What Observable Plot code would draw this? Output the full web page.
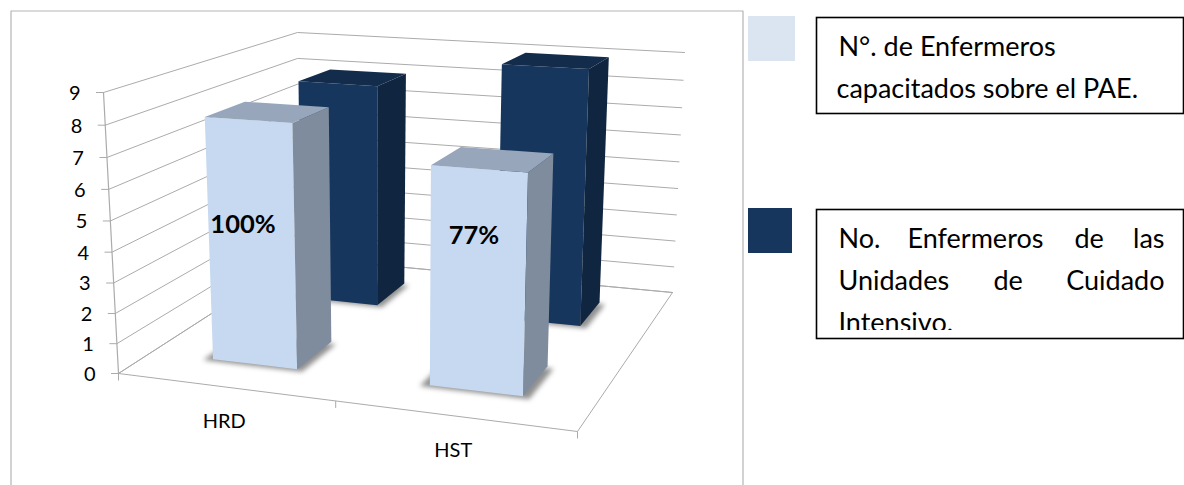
<!DOCTYPE html>
<html><head><meta charset="utf-8">
<script src="https://cdn.jsdelivr.net/npm/d3@7"></script>
<script src="https://cdn.jsdelivr.net/npm/@observablehq/plot@0.6"></script>
<style>
html,body{margin:0;padding:0;background:#fff}
svg{display:block}
g[fill="#444"]{filter:blur(2.4px)}
</style></head><body><div id="chart"></div>
<script>
// ---- data ----
const categories = ["HRD", "HST"];
const seriesNames = ["N°. de Enfermeros capacitados sobre el PAE.", "No. Enfermeros de las Unidades de Cuidado Intensivo."];
const trained = [8, 7];
const total = [8, 9];
const percentLabels = ["100%", "77%"];
const valueTicks = [0,1,2,3,4,5,6,7,8,9];

// ---- 3D view (perspective of the chart box) ----
const floorQuad = [[118,373],[577,431],[672,292],[298,257]];
const topQuad   = [[103,92],[587,123],[684,52],[297,32]];
const maxV = 9, rTilt = -0.05;
const [fl,fr,br,bl]=floorQuad;
const dx1=fr[0]-br[0],dx2=bl[0]-br[0],sx=fl[0]-fr[0]+br[0]-bl[0];
const dy1=fr[1]-br[1],dy2=bl[1]-br[1],sy=fl[1]-fr[1]+br[1]-bl[1];
const det=dx1*dy2-dx2*dy1, hg=(sx*dy2-dx2*sy)/det, hh=(dx1*sy-sx*dy1)/det;
const ha=fr[0]-fl[0]+hg*fr[0],hb=bl[0]-fl[0]+hh*bl[0],hd=fr[1]-fl[1]+hg*fr[1],he=bl[1]-fl[1]+hh*bl[1];
const hp=topQuad[0][0]*(1+rTilt)-fl[0], hq=topQuad[0][1]*(1+rTilt)-fl[1];
function persp(u,v,s){
  const w=hg*u+hh*v+rTilt*s+1;
  return [(ha*u+hb*v+hp*s+fl[0])/w,(hd*u+he*v+hq*s+fl[1])/w];
}
const cornersUV=[[0,0],[1,0],[1,1],[0,1]];
const residual=cornersUV.map(([u,v],i)=>{const p=persp(u,v,1);return [topQuad[i][0]-p[0],topQuad[i][1]-p[1]];});
function project(u,v,val){
  const s=val/maxV, p=persp(u,v,s);
  const mix=k=>(1-u)*(1-v)*residual[0][k]+u*(1-v)*residual[1][k]+u*v*residual[2][k]+(1-u)*v*residual[3][k];
  return [p[0]+s*mix(0),p[1]+s*mix(1)];
}
const barW=0.2, barD=0.2;
const vCenter=[0.255,0.757];
const uCenter=[0.25,0.75];
const colors=[
 {front:"#C6D9F1",side:"#7F8C9E",top:"#97A6BB"},
 {front:"#17365D",side:"#10253F",top:"#132C4C"}
];
function barFaces(c,s,val){
  const u0=uCenter[c]-barW/2,u1=uCenter[c]+barW/2,v0=vCenter[s]-barD/2,v1=vCenter[s]+barD/2;
  const col=colors[s], id=`${categories[c]}|${s}`;
  const poly=(name,pts,fill)=>pts.map(p=>({face:id+name,x:p[0],y:p[1],fill,category:categories[c],series:seriesNames[s],value:val}));
  return [
    ...poly("front",[project(u0,v0,0),project(u1,v0,0),project(u1,v0,val),project(u0,v0,val)],col.front),
    ...poly("side",[project(u1,v0,0),project(u1,v1,0),project(u1,v1,val),project(u1,v0,val)],col.side),
    ...poly("top",[project(u0,v0,val),project(u1,v0,val),project(u1,v1,val),project(u0,v1,val)],col.top)
  ];
}
function barShadow(c,s){
  const u0=uCenter[c]-barW/2-0.018,u1=uCenter[c]+barW/2+0.016,v0=vCenter[s]-barD/2-0.012,v1=vCenter[s]+barD/2-0.012;
  return [[u0,v0],[u1,v0],[u1,v1],[u0,v1]].map(([u,v])=>{const p=project(u,v,0);return {face:`sh${c}${s}`,x:p[0],y:p[1]};});
}
// painter's order: back series first
const backBars=[...barFaces(0,1,total[0]),...barFaces(1,1,total[1])];
const frontBars=[...barFaces(0,0,trained[0]),...barFaces(1,0,trained[1])];
const shadowsBack=[...barShadow(0,1),...barShadow(1,1)];
const shadowsFront=[...barShadow(0,0),...barShadow(1,0)];

// walls and floor
const grid=valueTicks.flatMap(t=>[[0,0],[0,1],[1,1]].map(([u,v])=>{const p=project(u,v,t);return {id:"g"+t,x:p[0],y:p[1]};}));
const floorLine=[[0,0],[1,0],[1,1],[0,1],[0,0]].map(([u,v])=>{const p=project(u,v,0);return {id:"f",x:p[0],y:p[1]};});
const axisLine=[0,maxV].map(t=>{const p=project(0,0,t);return {id:"a",x:p[0],y:p[1]};});
const ticksY=valueTicks.map(t=>{const p=project(0,0,t);return {x1:p[0]-7.5,x2:p[0],y1:p[1],y2:p[1],label:String(t),lx:p[0]-23,ly:p[1]+1};});
const ticksX=[0,0.5,1].map(u=>{const p=project(u,0,0);return {x1:p[0],x2:p[0],y1:p[1],y2:p[1]+7};});
const catLabels=categories.map((c,i)=>{const p=project(uCenter[i],0,0);return {label:c,x:p[0],y:p[1]+35};});
const pctHeight=[0.575,0.7], pctDx=[-8,-4];
const pctLabels=percentLabels.map((l,i)=>{const p=project(uCenter[i],vCenter[0]-barD/2,trained[i]*pctHeight[i]);return {label:l,x:p[0]+pctDx[i],y:p[1]-2};});

// legend layout
const legendSwatches=[{x1:748,x2:795,y1:16,y2:61,fill:"#DBE5F1"},{x1:748,x2:792,y1:208,y2:253,fill:"#17365D"}];
const legendBoxes=[{x1:816.5,x2:1183.5,y1:17.5,y2:113.5},{x1:816.5,x2:1183.5,y1:209.5,y2:338.5}];
const wordsStart=[
 {t:"N°. de Enfermeros",x:838,y:47},
 {t:"capacitados sobre el PAE.",x:836,y:89},
 {t:"No.",x:838,y:239},
 {t:"Enfermeros",x:907,y:239},
 {t:"de",x:1074,y:239},
 {t:"Unidades",x:838,y:281},
 {t:"de",x:993,y:281},
 {t:"Intensivo.",x:838,y:323}
];
const wordsEnd=[
 {t:"las",x:1164,y:239},
 {t:"Cuidado",x:1164,y:281}
];
const frame=[{x:10.5,y:485},{x:10.5,y:10.5},{x:742.5,y:10.5},{x:742.5,y:485}];
const font="Lato, 'Open Sans', sans-serif";
const gridColor="#ababab";
const polyOpts={x:"x",y:"y",z:"face",fill:"fill",stroke:"none"};
const legendFont=27;

const chart=Plot.plot({
  width:1184,height:485,margin:0,
  x:{domain:[0,1184],range:[0,1184],axis:null},
  y:{domain:[0,485],range:[0,485],axis:null},
  color:{type:"identity"},
  style:{background:"#fff",fontFamily:font},
  marks:[
    Plot.line(frame,{x:"x",y:"y",stroke:"#b5b5b5",strokeWidth:1.2}),
    Plot.line(grid,{x:"x",y:"y",z:"id",stroke:gridColor,strokeWidth:1}),
    Plot.line(floorLine,{x:"x",y:"y",z:"id",stroke:gridColor,strokeWidth:1}),
    Plot.line(axisLine,{x:"x",y:"y",z:"id",stroke:gridColor,strokeWidth:1.2}),
    Plot.link(ticksY,{x1:"x1",x2:"x2",y1:"y1",y2:"y2",stroke:gridColor}),
    Plot.link(ticksX,{x1:"x1",x2:"x2",y1:"y1",y2:"y2",stroke:gridColor}),
    Plot.line(shadowsBack,{x:"x",y:"y",z:"face",fill:"#444",fillOpacity:0.6,stroke:"none"}),
    Plot.line(backBars,polyOpts),
    Plot.line(shadowsFront,{x:"x",y:"y",z:"face",fill:"#444",fillOpacity:0.6,stroke:"none"}),
    Plot.line(frontBars,polyOpts),
    Plot.text(ticksY,{x:"lx",y:"ly",text:"label",textAnchor:"end",fontSize:20,fill:"#000",fontFamily:font}),
    Plot.text(catLabels,{x:"x",y:"y",text:"label",fontSize:20,fill:"#000",fontFamily:font}),
    Plot.text(pctLabels,{x:"x",y:"y",text:"label",fontSize:25.5,fontWeight:"bold",fill:"#000",fontFamily:font}),
    Plot.rect(legendSwatches,{x1:"x1",x2:"x2",y1:"y1",y2:"y2",fill:"fill"}),
    Plot.text(wordsStart,{x:"x",y:"y",text:"t",textAnchor:"start",fontSize:legendFont,fill:"#000",fontFamily:font}),
    Plot.text(wordsEnd,{x:"x",y:"y",text:"t",textAnchor:"end",fontSize:legendFont,fill:"#000",fontFamily:font}),
    Plot.rect([{x1:815,x2:1184,y1:330,y2:352}],{x1:"x1",x2:"x2",y1:"y1",y2:"y2",fill:"#fff"}),
    Plot.rect(legendBoxes,{x1:"x1",x2:"x2",y1:"y1",y2:"y2",fill:"none",stroke:"#000",strokeWidth:1.6})
  ]
});
document.getElementById("chart").append(chart);
</script></body></html>
